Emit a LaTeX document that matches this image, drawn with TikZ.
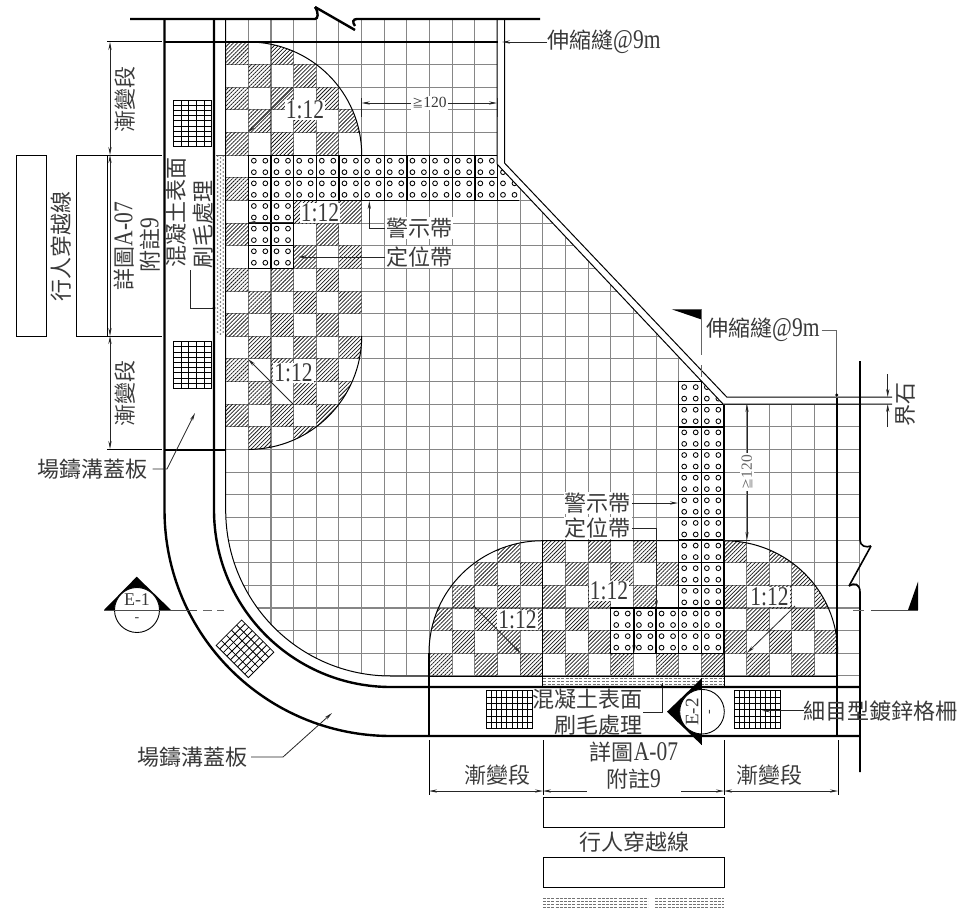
\documentclass[tikz,border=0pt]{standalone}
\usepackage{fontspec}
\usetikzlibrary{arrows.meta,patterns.meta}
\setmainfont{Liberation Serif}
\newfontfamily\cjk{Noto Sans CJK TC}
\definecolor{txt}{HTML}{3A3A3A}
\definecolor{gridc}{HTML}{868686}
\newcommand{\gx}[1]{225.7+22.65*#1}
\newcommand{\gy}[1]{42+22.64*#1}
\newcommand{\latn}[1]{\scalebox{.86}[1.08]{\fontsize{25}{25}\selectfont\rmfamily #1}}
\newcommand{\tacdots}[2]{%
  \fill[white] ({\gx{#1}},{\gy{#2}}) rectangle +(22.65,22.64);
  \foreach \da in {5.5,17}{\foreach \db in {5.5,17}{
    \draw[line width=.85pt,black,fill=white] ({\gx{#1}+\da},{\gy{#2}+\db}) circle[radius=2.4];}}}
\newcommand{\taccell}[2]{\tacdots{#1}{#2}
  \draw[line width=1.3pt] ({\gx{#1}},{\gy{#2}}) rectangle +(22.65,22.64);}
\newcommand{\grate}[6]{% x1 y1 x2 y2 nx ny
  \draw[line width=.8pt] (#1,#2) rectangle (#3,#4);
  \foreach \k in {1,...,#5}{\draw[line width=.8pt] ({#1+(#3-#1)*\k/(#5+1)},#2) -- ({#1+(#3-#1)*\k/(#5+1)},#4);}
  \foreach \k in {1,...,#6}{\draw[line width=.8pt] (#1,{#2+(#4-#2)*\k/(#6+1)}) -- (#3,{#2+(#4-#2)*\k/(#6+1)});}}
\tikzset{
  thickln/.style={line width=2.4pt},
  thinln/.style={line width=1pt},
  gridln/.style={line width=1.05pt,gridc},
  hatch/.style={pattern={Lines[angle=45,distance=2.8pt,line width=.75pt]},pattern color=black!90},
  lead/.style={line width=.8pt,black!85},
  tip/.style={-{Stealth[length=8pt,width=3.2pt]}},
  tips/.style={{Stealth[length=8pt,width=3.2pt]}-{Stealth[length=8pt,width=3.2pt]}},
  lab/.style={inner sep=0pt,text=txt,font=\fontsize{22}{24}\selectfont\cjk},
  mlab/.style={lab,fill=white,inner sep=1pt},
  ratio/.style={inner sep=1pt,fill=white,text=txt},
  secfill/.style={fill=black},
}
\begin{document}
\begin{tikzpicture}[x=1pt,y=-1pt]
\useasboundingbox[fill=white] (0,0) rectangle (963,910);
% grid, clipped to the paved area
\begin{scope}
\clip (225.7,19) -- (497,19) -- (497,164) -- (723,404) -- (860,404) -- (860,676) -- (391,676)
  .. controls (299.3,676) and (225.7,601.7) .. (225.7,510) -- cycle;
\foreach \i in {0,...,28}{\draw[gridln] ({\gx{\i}},19) -- ({\gx{\i}},676);}
\foreach \j in {0,...,28}{\draw[gridln] (225.7,{\gy{\j}}) -- (860,{\gy{\j}});}
\end{scope}
% left ramp
\begin{scope}
\clip (225.7,42) -- (248.4,42) .. controls (311,42) and (361.7,92.4) .. (361.7,155) -- (361.7,336)
  .. controls (361.7,398.6) and (311,449.4) .. (248.4,449.4) -- (225.7,449.4) -- cycle;
\foreach \j in {0,...,17}{\foreach \i in {0,...,5}{
  \pgfmathtruncatemacro\hs{mod(\i+\j,2)}
  \ifnum\hs=0 \fill[hatch] ({\gx{\i}},{\gy{\j}}) rectangle +(22.65,22.64); \fi}}
\end{scope}
\draw[thinln] (248.4,42) .. controls (311,42) and (361.7,92.4) .. (361.7,155) -- (361.7,160);
\draw[thinln] (361.7,336) .. controls (361.7,398.6) and (311,449.4) .. (248.4,449.4);
% bottom ramp
\begin{scope}
\clip (429,676) -- (429,653) .. controls (429,590.3) and (480.1,540.7) .. (542.8,540.7)
  -- (724,540.7) .. controls (786.9,540.7) and (837.7,590.3) .. (837.7,653) -- (837.7,676) -- cycle;
\foreach \j in {22,...,27}{\foreach \i in {9,...,26}{
  \pgfmathtruncatemacro\hs{mod(\i+\j,2)}
  \ifnum\hs=0 \fill[hatch] ({\gx{\i}},{\gy{\j}}) rectangle +(22.65,22.64); \fi}}
\end{scope}
\draw[thinln] (429,653) .. controls (429,590.3) and (480.1,540.7) .. (542.8,540.7) -- (724,540.7)
  .. controls (786.9,540.7) and (837.7,590.3) .. (837.7,653);
\draw[thinln] (542.8,540.7) -- (542.8,687);
\draw[thinln] (724,540.7) -- (724,687);
% tactile strips
\begin{scope}
\clip (225.7,19) -- (497,19) -- (497,164) -- (723,404) -- (860,404) -- (860,676) -- (225.7,676) -- cycle;
\foreach \i in {1,...,11}{\taccell{\i}{5}\taccell{\i}{6}}
\tacdots{12}{5}\tacdots{12}{6}
\draw[line width=1.3pt] (497,200.8) -- (519,200.8);
\foreach \j in {7,8,9}{\taccell{1}{\j}\taccell{2}{\j}}
\foreach \j in {15,...,26}{\taccell{20}{\j}\taccell{21}{\j}}
\foreach \j in {25,26}{\foreach \i in {17,18,19}{\taccell{\i}{\j}}}
\end{scope}
% brushed concrete strips
\foreach \dy in {0,...,44}{
  \fill[black!55] (217.6,{156+4*\dy}) circle[radius=.9];
  \fill[black!55] (223.2,{156+4*\dy}) circle[radius=.9];
  \fill[black!55] (220.4,{158+4*\dy}) circle[radius=.9];}
\draw[line width=1pt,black!70] (215.5,155) -- (225.7,155);
\foreach \dy in {678.5,681.5,684.5}{\draw[line width=.8pt,black!55,dash pattern=on 3pt off 1.5pt] (543,\dy) -- (724,\dy);}
\draw[thinln] (429,676) -- (837,676);
% structure lines
\draw[thickln] (130,19) -- (315,19) .. controls (318,19) and (319,13) .. (315,7);
\draw[thickln] (315,7) -- (355,30);
\draw[thickln] (355,26) .. controls (352,22) and (353,19) .. (357,19) -- (540,19);
\draw[thickln] (165,42) -- (498,42);
\draw[thickln] (164.5,19) -- (164.5,510) .. controls (164.5,635) and (266,736) .. (391,736) -- (860,736);
\draw[thickln] (214,19) -- (214,510) .. controls (214,607.8) and (293.2,687) .. (391,687) -- (860,687);
\draw[thinln] (225.7,19) -- (225.7,510) .. controls (225.7,601.7) and (299.3,676) .. (391,676) -- (429,676);
\draw[thickln] (164.5,449.7) -- (225.7,449.7);
\draw[line width=2pt] (429,653) -- (429,736);
\draw[line width=2.4pt] (837,398) -- (837,736);
\draw[thinln] (497,19) -- (497,164) -- (723,404) -- (892,404);
\draw[thinln] (504.5,19) -- (504.5,163) -- (726.7,397) -- (892,397);
\draw[line width=1.6pt] (860,361) -- (860,540) .. controls (860,546) and (866,548) .. (871,546);
\draw[line width=1.6pt] (871,546) -- (849,586);
\draw[line width=1.6pt] (849,586) .. controls (854,582) and (860,584) .. (860,592) -- (860,772);
% grates
\grate{173.3}{100}{211.7}{146.7}{4}{8}
\grate{173.3}{341.7}{211.7}{388.3}{4}{8}
\grate{486.3}{690.7}{532.4}{728.7}{8}{5}
\grate{734.5}{690.7}{780.6}{728.7}{8}{5}
\begin{scope}[shift={(245,648.8)},rotate=-45]
\grate{-22.8}{-18}{22.8}{18}{8}{4}
\end{scope}
% left dimensions and crossing
\draw[thinln] (16,336) rectangle (46,155);
\draw[thinln] (76,336) rectangle (107,155);
\draw[thinln] (107,41) -- (162,41);
\draw[thinln] (107,155) -- (162,155);
\draw[thinln] (107,336) -- (162,336);
\draw[thinln] (107,449) -- (162,449);
\draw[lead,tips] (110,42) -- (110,155);
\draw[lead,tips] (110,155) -- (110,336);
\draw[lead,tips] (110,336) -- (110,449);
\node[lab,rotate=90] (crossL) at (61,246) {行人穿越線};
\node[lab,fill=white,inner sep=1pt,rotate=90] (taperA) at (125,99) {漸變段};
\node[lab,rotate=90,fill=white,inner sep=1pt] (taperB) at (125,393) {漸變段};
\node[lab,rotate=90,fill=white,inner sep=1pt] (detailL) at (124,246) {詳圖\latn{A-07}};
\node[lab,rotate=90] (noteL) at (150,245) {附註\latn{9}};
\node[lab,rotate=90] (roughA) at (176,212) {混凝土表面};
\node[lab,rotate=90] (roughB) at (203,224) {刷毛處理};
\coordinate (roughTip) at (214,308);
\draw[lead] (190.7,270) |- (roughTip);
\fill (roughTip) circle[radius=1.6];
% bottom dimensions and crossing
\foreach \xx in {429,543,724,838}{\draw[thinln] (\xx,740) -- (\xx,795);}
\draw[lead,tips] (429,791) -- (543,791);
\draw[lead,tips] (724,791) -- (838,791);
\draw[lead,{Stealth[length=8pt,width=3.2pt]}-] (543,791) -- (587,791);
\draw[lead,-{Stealth[length=8pt,width=3.2pt]}] (681,791) -- (724,791);
\draw[thinln] (543,797) rectangle (724,827);
\draw[thinln] (543,857) rectangle (724,887);
\foreach \dy in {898.5,901.5,904.5,907}{
  \draw[line width=.8pt,black!55,dash pattern=on 3pt off 1.2pt] (543,\dy) -- (648,\dy);
  \draw[line width=.8pt,black!55,dash pattern=on 3pt off 1.2pt] (655,\dy) -- (724,\dy);}
\node[lab] (crossB) at (634.5,842) {行人穿越線};
\node[lab] (taperC) at (497,775) {漸變段};
\node[lab] (taperD) at (769.5,775) {漸變段};
\node[lab] (detailB) at (634,752) {詳圖\latn{A-07}};
\node[lab] (noteB) at (633.5,779) {附註\latn{9}};
\node[lab] (roughC) at (587,699) {混凝土表面};
\node[lab] (roughD) at (598,725) {刷毛處理};
\coordinate (roughTipB) at (662,683);
\draw[lead] (643,712) -| (roughTipB);
\fill (662,686.5) circle[radius=1.6];
% ramp ratios
\node[ratio] (r1) at (305,110) {\latn{1:12}};
\node[ratio] (r2) at (320,212.7) {\latn{1:12}};
\node[ratio] (r3) at (293.5,373) {\latn{1:12}};
\node[ratio] (r4) at (517.5,620) {\latn{1:12}};
\node[ratio] (r5) at (609,590.7) {\latn{1:12}};
\node[ratio] (r6) at (769.5,596.7) {\latn{1:12}};
\coordinate (a1) at (248,132.5);
\coordinate (a2) at (248,222.5);
\coordinate (a3) at (248,359);
\coordinate (a4) at (520.5,653);
\coordinate (a5) at (634,653);
\coordinate (a6) at (747,653);
\draw[lead,tip] (293,87.5) -- (a1);
\draw[lead,tip] (293,222.5) -- (a2);
\draw[lead,tip] (294,405) -- (a3);
\draw[lead,tip] (473.7,606) -- (a4);
\draw[line width=1.1pt,tip] (634,608) -- (a5);
\draw[lead,tip] (795,606) -- (a6);
% top dims
\draw[lead] (361.7,98) -- (361.7,117);
\draw[lead] (497,98) -- (497,117);
\draw[lead,tips] (361.7,103) -- (497,103);
\node[inner sep=1.5pt,fill=white,text=txt,font=\fontsize{15.5}{16}\selectfont] (dimT) at (429.5,103) {{\cjk\fontsize{11}{12}\selectfont ≧}120};
\draw[lead,tips] (747,404) -- (747,540);
\draw[lead] (723,404) -- (750,404);
\draw[lead] (724,540.7) -- (750,540.7);
\node[inner sep=1.5pt,fill=white,text=black!60,font=\fontsize{15.5}{16}\selectfont,rotate=90] (dimR) at (747,472) {{\cjk\fontsize{11}{12}\selectfont ≧}120};
% labels with leaders
\node[lab,anchor=west] (jointT) at (547,42) {伸縮縫\latn{@9m}};
\coordinate (jointTTip) at (502,42);
\draw[lead,tip] (jointT.west) -- (jointTTip);
\node[mlab,anchor=west] (warnT) at (385,228) {警示帶};
\coordinate (warnTTip) at (369.3,201);
\draw[lead,tip] (warnT.west) -| (warnTTip);
\node[mlab,anchor=west] (locT) at (385,257) {定位帶};
\coordinate (locTTip) at (298,257);
\draw[lead,tip,line width=1pt] (locT.west) -- (locTTip);
\node[lab,anchor=west] (jointR) at (706,330) {伸縮縫\latn{@9m}};
\coordinate (jointRTip) at (836.7,398);
\draw[lead,line width=1pt,black!60] (jointR.east) ++(2,0) -| (jointRTip);
\fill (836.7,395) circle[radius=1.6];
\node[mlab,anchor=east] (warnB) at (632,503) {警示帶};
\coordinate (warnBTip) at (678,503);
\draw[lead,tip] (warnB.east) -- (warnBTip);
\node[mlab,anchor=east] (locB) at (632,528) {定位帶};
\coordinate (locBTip) at (656.3,608);
\draw[lead,tip] (locB.east) -| (locBTip);
\node[lab,rotate=90] (curb) at (906,404) {界石};
\coordinate (curbA) at (887.7,397);
\coordinate (curbB) at (887.7,404);
\draw[lead,tip] (887.7,374) -- (curbA);
\draw[lead,tip] (887.7,427) -- (curbB);
\node[lab,anchor=west] (grating) at (803.6,710.7) {細目型鍍鋅格柵};
\coordinate (gratingTip) at (762,710.7);
\draw[lead,tip] (grating.west) -- (gratingTip);
\node[lab] (coverA) at (92.5,469) {場鑄溝蓋板};
\coordinate (coverATip) at (195,413);
\draw[lead,tip] (coverA.east) ++(5,0) -- (167,469) -- (coverATip);
\node[lab] (coverB) at (192,757) {場鑄溝蓋板};
\coordinate (coverBTip) at (332,713);
\draw[lead,tip] (coverB.east) ++(4,0) -- (283,757) -- (coverBTip);
% section marks
\fill[secfill] (671.7,309.3) -- (701,309.3) -- (701,319.3) -- cycle;
\draw[line width=1pt,black!60] (701,309) -- (701,355);
\draw[line width=1pt,black!60] (701,365) -- (701,377);
\fill[secfill] (918,581.7) -- (918,610) -- (908,610) -- cycle;
\draw[line width=1pt,black!70] (871,610) -- (918,610);
\draw[line width=1pt,black!60] (853,610) -- (864,610);
% E-1
\fill[secfill] (136.7,576.7) -- (104,610) -- (171,610) -- cycle;
\draw[line width=.9pt,fill=white] (137,610) circle[radius=22.5];
\draw[line width=1pt,black!70] (104,610) -- (197,610);
\draw[line width=1pt,black!60] (203,610) -- (212,610);
\draw[line width=1pt,black!60] (217,610) -- (224,610);
\node[inner sep=0pt,text=txt,font=\fontsize{18}{18}\selectfont] (e1) at (137,599.5) {E-1};
\node[inner sep=0pt,text=txt,font=\fontsize{14}{14}\selectfont] (e1b) at (137,620) {-};
% E-2
\fill[secfill] (667,711.7) -- (701.7,678.3) -- (701.7,745) -- cycle;
\draw[line width=.9pt,fill=white] (702,711.7) circle[radius=22.3];
\draw[line width=1pt] (701.7,678.3) -- (701.7,745);
\node[inner sep=0pt,text=txt,rotate=90,font=\fontsize{19}{19}\selectfont] (e2) at (692,712) {E-2};
\node[inner sep=0pt,text=txt,rotate=90,font=\fontsize{14}{14}\selectfont] (e2b) at (711,711.7) {-};
\end{tikzpicture}
\end{document}
